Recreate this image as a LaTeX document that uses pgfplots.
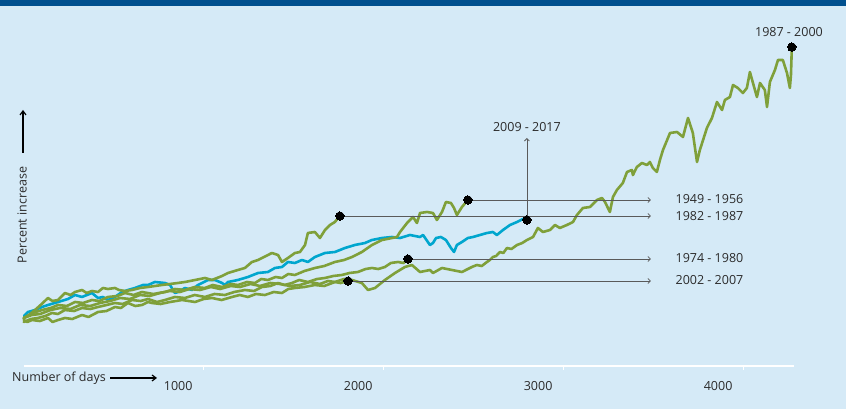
\documentclass[border=0pt]{standalone}
\usepackage{pgfplots}
\pgfplotsset{compat=1.18}
\usepackage{fontspec}
\setmainfont{Open Sans}
\usetikzlibrary{arrows.meta}
\definecolor{bg}{HTML}{D5EAF7}
\definecolor{band}{HTML}{00508F}
\definecolor{grn}{HTML}{7FA03A}
\definecolor{blu}{HTML}{00A6CE}
\definecolor{ann}{HTML}{5A5A5A}
\definecolor{txt}{HTML}{2B2B2B}
\begin{document}
\begin{tikzpicture}[font=\fontsize{12.5}{15}\selectfont]
\fill[bg] (0,0) rectangle (846pt,409pt);
\fill[band] (0,403pt) rectangle (846pt,409pt);
\begin{axis}[
 at={(23.7pt,43pt)}, anchor=south west,
 scale only axis, width=770.3pt, height=360pt,
 xmin=0, xmax=4280, ymin=0, ymax=360,
 axis x line*=bottom, axis y line=none,
 x axis line style={white, line width=1.5pt},
 xtick={1000,2000,3000,4000},
 major tick length=4pt, tick align=outside,
 tick style={white, line width=1.5pt},
 xticklabel style={text=txt, anchor=center, xshift=-25.5pt, yshift=-16pt},
 /pgf/number format/assume math mode=true,
 /pgf/number format/1000 sep={},
 ytick=\empty,
 clip=false,
 every axis plot/.append style={line width=2.6pt, line join=round, line cap=round},
]
% 2002 - 2007
\addplot[grn] coordinates {(0,46)(20,44)(46,46)(90,45)(135,48)(160,44)(191,46)(229,48)(270,47)(324,51)(360,49)(413,54)(460,55)(507,59)(540,58)(579,63)(620,60)(657,61)(690,64)(713,63)(760,62)(813,64)(880,66)(952,64)(1000,67)(1046,68)(1100,66)(1157,69)(1200,71)(1246,69)(1290,72)(1340,71)(1390,74)(1435,73)(1470,77)(1507,78)(1560,79)(1618,81)(1670,80)(1729,84)(1760,83)(1802,85)};
% 1974 - 1980
\addplot[grn] coordinates {(0,44)(40,47)(79,48)(120,50)(157,53)(190,52)(229,56)(280,55)(324,58)(370,57)(413,59)(460,61)(507,63)(550,62)(602,66)(650,65)(691,67)(740,64)(785,66)(840,69)(896,68)(950,71)(1007,69)(1060,72)(1118,71)(1170,74)(1229,76)(1280,75)(1324,79)(1370,80)(1413,83)(1450,81)(1491,83)(1530,86)(1579,84)(1630,87)(1674,88)(1720,90)(1768,91)(1810,93)(1857,94)(1900,97)(1935,98)(1970,97)(2007,99)(2040,103)(2080,104)(2110,103)(2135,107)};
% 2009 - 2017
\addplot[blu] coordinates {(2,50)(24,54)(63,56)(102,59)(135,61)(191,64)(246,67)(285,71)(324,69)(379,73)(413,68)(441,69)(468,66)(507,69)(546,74)(579,76)(618,78)(663,81)(691,81)(729,84)(785,83)(813,81)(840,73)(857,74)(896,78)(935,76)(968,81)(1024,86)(1063,86)(1102,83)(1118,81)(1135,84)(1190,86)(1246,89)(1302,93)(1357,94)(1396,98)(1435,99)(1468,104)(1507,103)(1546,106)(1579,104)(1618,109)(1674,113)(1729,114)(1785,118)(1840,121)(1896,123)(1935,126)(1991,128)(2046,129)(2091,128)(2146,131)(2202,129)(2219,131)(2257,121)(2274,123)(2291,128)(2318,129)(2346,126)(2374,118)(2391,114)(2407,121)(2435,124)(2468,128)(2496,129)(2535,131)(2574,133)(2607,134)(2629,131)(2663,136)(2702,141)(2741,144)(2774,147)(2796,146)};
% 1982 - 1987
\addplot[grn] coordinates {(0,48)(30,51)(63,56)(100,62)(135,68)(160,65)(191,66)(229,73)(260,71)(285,74)(324,76)(350,73)(379,75)(413,74)(440,78)(468,77)(507,78)(530,76)(563,75)(602,76)(646,78)(691,79)(729,80)(768,81)(813,82)(857,83)(896,84)(952,86)(1007,88)(1046,86)(1102,90)(1135,93)(1190,96)(1229,98)(1268,104)(1302,106)(1324,108)(1357,111)(1379,113)(1413,111)(1435,104)(1468,108)(1507,113)(1535,114)(1563,121)(1579,133)(1618,134)(1646,128)(1674,136)(1702,141)(1729,144)(1757,150)};
% 1949 - 1956
\addplot[grn] coordinates {(0,48)(50,53)(102,56)(150,58)(191,61)(240,60)(285,64)(330,63)(379,66)(420,65)(468,69)(520,70)(563,73)(610,71)(657,74)(720,72)(785,74)(840,77)(896,76)(950,79)(1007,78)(1050,81)(1102,79)(1150,82)(1190,81)(1240,84)(1285,83)(1320,87)(1357,86)(1400,89)(1435,88)(1470,92)(1507,91)(1560,95)(1618,98)(1670,100)(1729,104)(1780,106)(1824,109)(1879,114)(1935,121)(1991,126)(2074,129)(2091,134)(2130,143)(2163,149)(2185,143)(2202,153)(2241,154)(2274,153)(2296,146)(2324,154)(2346,164)(2374,163)(2391,158)(2407,151)(2435,159)(2468,166)};
% 1987 - 2000
\addplot[grn] coordinates {(0,48)(45,51)(91,52)(150,56)(202,58)(260,57)(313,61)(370,60)(424,63)(480,65)(535,68)(590,67)(646,71)(700,70)(757,73)(810,75)(868,74)(920,77)(979,76)(1040,79)(1091,77)(1150,80)(1202,79)(1260,82)(1313,80)(1370,83)(1424,82)(1480,80)(1535,81)(1590,84)(1646,82)(1690,85)(1729,84)(1780,87)(1824,86)(1879,83)(1913,76)(1952,78)(2007,86)(2063,93)(2118,99)(2157,101)(2202,94)(2257,96)(2274,93)(2324,98)(2379,96)(2435,94)(2457,96)(2490,99)(2518,101)(2545,100)(2574,104)(2590,106)(2607,109)(2625,110)(2646,114)(2665,113)(2685,118)(2710,117)(2741,121)(2770,123)(2796,126)(2830,129)(2857,138)(2885,134)(2924,136)(2952,141)(2979,138)(3018,141)(3052,144)(3074,151)(3107,158)(3146,159)(3185,166)(3213,168)(3230,164)(3246,158)(3257,154)(3274,169)(3296,176)(3329,183)(3352,194)(3379,196)(3385,191)(3407,199)(3435,203)(3463,201)(3479,204)(3496,198)(3518,194)(3535,206)(3552,216)(3591,233)(3630,234)(3663,229)(3691,248)(3718,233)(3741,204)(3757,216)(3796,238)(3824,248)(3852,264)(3880,256)(3896,266)(3924,269)(3941,281)(3968,278)(3996,273)(4018,278)(4035,294)(4052,283)(4074,269)(4091,283)(4118,276)(4130,259)(4146,284)(4174,296)(4191,306)(4218,306)(4241,293)(4257,278)(4263,291)(4268,319)};
% annotation lines
\draw[ann, line width=0.8pt, -{Straight Barb[length=2.5pt,width=5pt]}] (axis cs:2468,166) -- (axis cs:3485,166);
\draw[ann, line width=0.8pt, -{Straight Barb[length=2.5pt,width=5pt]}] (axis cs:1757,150) -- (axis cs:3485,150);
\draw[ann, line width=0.8pt, -{Straight Barb[length=2.5pt,width=5pt]}] (axis cs:2135,107) -- (axis cs:3485,107);
\draw[ann, line width=0.8pt, -{Straight Barb[length=2.5pt,width=5pt]}] (axis cs:1802,85) -- (axis cs:3485,85);
\draw[ann, line width=0.8pt, -{Straight Barb[length=2.5pt,width=5pt]}] (axis cs:2796,146) -- (axis cs:2796,228);
\addplot[only marks, mark=*, mark size=4.2pt, black, line width=0pt] coordinates {(4268,319)(2468,166)(1757,150)(2135,107)(1802,85)(2796,146)};
\node[anchor=west, inner sep=0, text=txt] at (axis cs:3621,167) {1949 - 1956};
\node[anchor=west, inner sep=0, text=txt] at (axis cs:3621,150) {1982 - 1987};
\node[anchor=west, inner sep=0, text=txt] at (axis cs:3621,108) {1974 - 1980};
\node[anchor=west, inner sep=0, text=txt] at (axis cs:3621,86) {2002 - 2007};
\node[inner sep=0, text=txt] at (axis cs:2796,239) {2009 - 2017};
\node[inner sep=0, text=txt] at (axis cs:4252,334) {1987 - 2000};
\end{axis}
\node[rotate=90, inner sep=0, text=txt] at (22pt,194pt) {Percent increase};
\draw[black, line width=1.2pt, -{Straight Barb[length=4pt,width=6pt]}] (23pt,256pt) -- (23pt,299pt);
\node[anchor=west, inner sep=0, text=txt] at (12pt,31pt) {Number of days};
\draw[black, line width=1.2pt, -{Straight Barb[length=4pt,width=6pt]}] (110pt,31pt) -- (157pt,31pt);
\pgfresetboundingbox
\useasboundingbox (0,0) rectangle (846pt,409pt);
\end{tikzpicture}
\end{document}
